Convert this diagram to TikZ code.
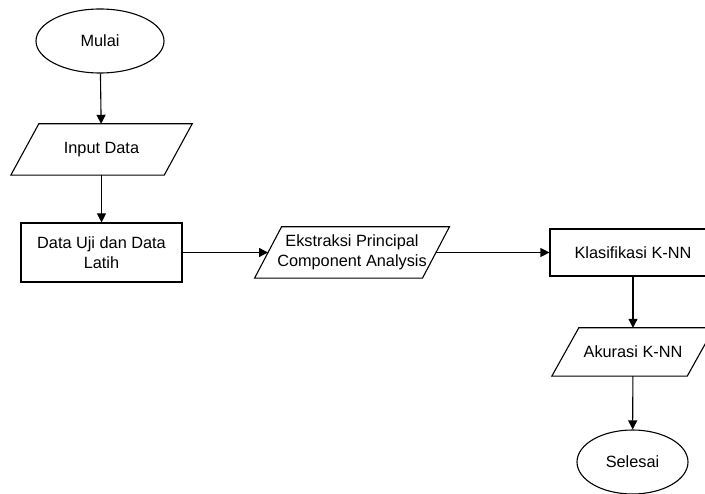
\documentclass[tikz,border=0pt]{standalone}
\usepackage{fontspec}
\setmainfont{Liberation Sans}
\usetikzlibrary{arrows.meta,positioning,shapes.geometric}

\begin{document}
\begin{tikzpicture}[x=1pt, y=-1pt, >={Triangle[length=9pt,width=9pt]},
  every node/.style={font=\fontsize{16.3}{20}\selectfont, align=center, inner sep=0pt},
  terminal/.style={draw, line width=1.1pt, ellipse, minimum width=128pt, minimum height=64pt},
  iobox/.style={rectangle, minimum height=51pt},
  procbox/.style={draw, line width=1.1pt, rectangle},
  flow/.style={->, line width=1.1pt}]
  \useasboundingbox (0,0) rectangle (705,494);
  % left column
  \node[terminal] (mulai) at (100,41) {Mulai};
  \node[iobox, minimum width=153pt] (input) at (101.5,149.5) {Input Data};
  \node[procbox, minimum width=161pt, minimum height=59pt] (data) at (101.5,252.5) {Data Uji dan Data\\Latih};
  % middle
  \node[iobox, minimum width=167.5pt] (pca) at (352,252.5) {Ekstraksi Principal\\Component Analysis};
  % right column
  \node[procbox, minimum width=166pt, minimum height=47pt] (knn) at (633,252.5) {Klasifikasi K-NN};
  \node[iobox, minimum width=135pt, minimum height=48pt] (akurasi) at (633,352) {Akurasi K-NN};
  \node[terminal, minimum width=111pt] (selesai) at (632.5,462) {Selesai};
  % parallelogram outlines
  \foreach \n/\s in {input/14, pca/13.5, akurasi/13.5}
    \draw[line width=1.1pt, line join=miter] ([xshift=\s pt]\n.north west) -- ([xshift=\s pt]\n.north east)
      -- ([xshift=-\s pt]\n.south east) -- ([xshift=-\s pt]\n.south west) -- cycle;
  % connectors
  \draw[flow] (mulai) -- (input);
  \draw[flow] (input) -- (data);
  \draw[flow] (data) -- (pca);
  \draw[flow] (pca) -- (knn);
  \draw[flow] (knn) -- (akurasi);
  \draw[flow] (akurasi) -- (selesai);
\end{tikzpicture}
\end{document}
